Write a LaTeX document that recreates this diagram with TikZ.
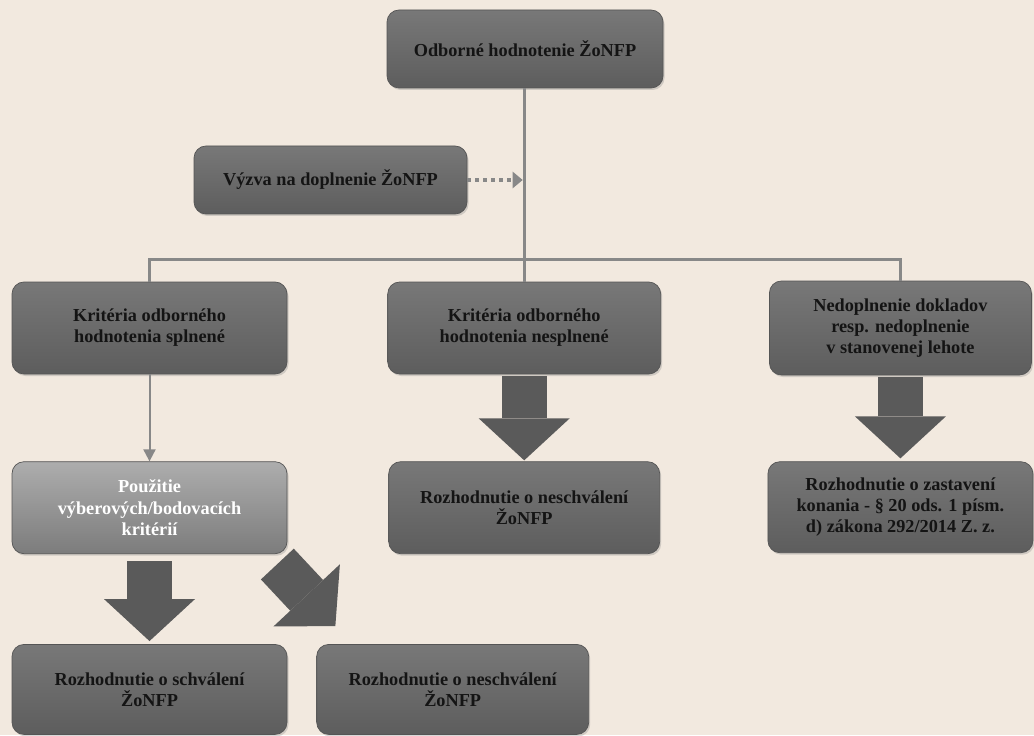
\documentclass[tikz,border=0pt]{standalone}
\usepackage{fontspec}
\setmainfont{Liberation Serif}
\usetikzlibrary{positioning, arrows.meta, shadows}

\definecolor{pozadie}{HTML}{F2E9DF}
\definecolor{boxtop}{HTML}{787878}
\definecolor{boxbottom}{HTML}{5D5D5D}
\definecolor{boxedge}{HTML}{555555}
\definecolor{boxtext}{HTML}{141414}
\definecolor{lighttop}{HTML}{ADADAD}
\definecolor{lightbottom}{HTML}{7C7C7C}
\definecolor{spojka}{HTML}{888888}
\definecolor{sipka}{HTML}{5A5A5A}

\begin{document}
\begin{tikzpicture}[
    box/.style={rectangle, draw=boxedge, thin, rounded corners=2.4mm,
        top color=boxtop, bottom color=boxbottom, text=boxtext,
        font=\bfseries\fontsize{10.4}{12}\selectfont, align=center,
        minimum width=55mm, minimum height=18.4mm,
        drop shadow={shadow xshift=0.3mm, shadow yshift=-0.4mm, opacity=0.3}},
    light/.style={top color=lighttop, bottom color=lightbottom, text=white},
    line/.style={draw=spojka, line width=0.6mm},
    dots/.style={draw=spojka, line width=0.8mm, dash pattern=on 0.8mm off 0.8mm,
        -{Triangle[length=2mm, width=3.2mm]}},
    block/.style={draw=sipka, line width=9mm,
        -{Triangle[length=8.4mm, width=18.2mm, line width=0pt]}}
]

% background
\useasboundingbox (0,0) rectangle (20.68,-14.7);
\fill[pozadie] (0,0) rectangle (20.68,-14.7);

% top
\node[box, minimum width=55.2mm, minimum height=15.6mm] (hodnotenie) at (10.5,-0.98) {Odborné hodnotenie ŽoNFP};
\node[box, minimum width=54.6mm, minimum height=13.6mm] (vyzva) at (6.61,-3.6) {Výzva na doplnenie ŽoNFP};

% row 2
\node[box] (krit_splnene) at (2.99,-6.56) {Kritéria odborného\\hodnotenia splnené};
\node[box, right=20mm of krit_splnene, minimum width=54.6mm] (krit_nesplnene) {Kritéria odborného\\hodnotenia nesplnené};
\node[box, right=21.6mm of krit_nesplnene, minimum width=52.4mm, minimum height=18.8mm] (nedoplnenie) {Nedoplnenie dokladov\\resp. nedoplnenie\\v stanovenej lehote};

% row 3
\node[box, light, below=17.4mm of krit_splnene] (pouzitie) {Použitie\\výberových/bodovacích\\kritérií};
\node[box, below=17.4mm of krit_nesplnene, minimum width=54.2mm] (rozh_neschval1) {Rozhodnutie o neschválení\\ŽoNFP};
\node[box, below=17.2mm of nedoplnenie, minimum width=53mm, minimum height=18.2mm] (rozh_zastav) {Rozhodnutie o zastavení\\konania - § 20 ods. 1 písm.\\d) zákona 292/2014 Z. z.};

% row 4
\node[box, below=18mm of pouzitie, minimum height=18mm] (rozh_schval) {Rozhodnutie o schválení\\ŽoNFP};
\node[box, right=5.8mm of rozh_schval, minimum width=54.4mm, minimum height=18mm] (rozh_neschval2) {Rozhodnutie o neschválení\\ŽoNFP};

% tree lines
\coordinate (rozvod) at (10.47,-5.2);
\draw[line] (krit_nesplnene.north |- hodnotenie.south) -- (krit_nesplnene.north);
\draw[line] (krit_splnene.north) -- (krit_splnene.north |- rozvod) -- (nedoplnenie.north |- rozvod) -- (nedoplnenie.north);
\draw[dots, shorten >=0.3mm] (vyzva.east) -- (vyzva.east -| krit_nesplnene.north);
\draw[line, line width=0.4mm, -{Triangle[length=2.4mm, width=2.4mm]}] (krit_splnene) -- (pouzitie);

% block arrows
\draw[block, shorten <=0.4mm, shorten >=0.2mm] (krit_nesplnene) -- (rozh_neschval1);
\draw[block, shorten <=0.4mm, shorten >=0.6mm] (nedoplnenie) -- (rozh_zastav);
\draw[block, shorten <=1.4mm, shorten >=0.6mm] (pouzitie) -- (rozh_schval);
\coordinate (diag_start) at ([shift={(-0.2,-0.2)}]pouzitie.south east);
\coordinate (diag_end) at ([shift={(0.38,0.36)}]rozh_neschval2.north west);
\draw[block] (diag_start) -- (diag_end);

\end{tikzpicture}
\end{document}
